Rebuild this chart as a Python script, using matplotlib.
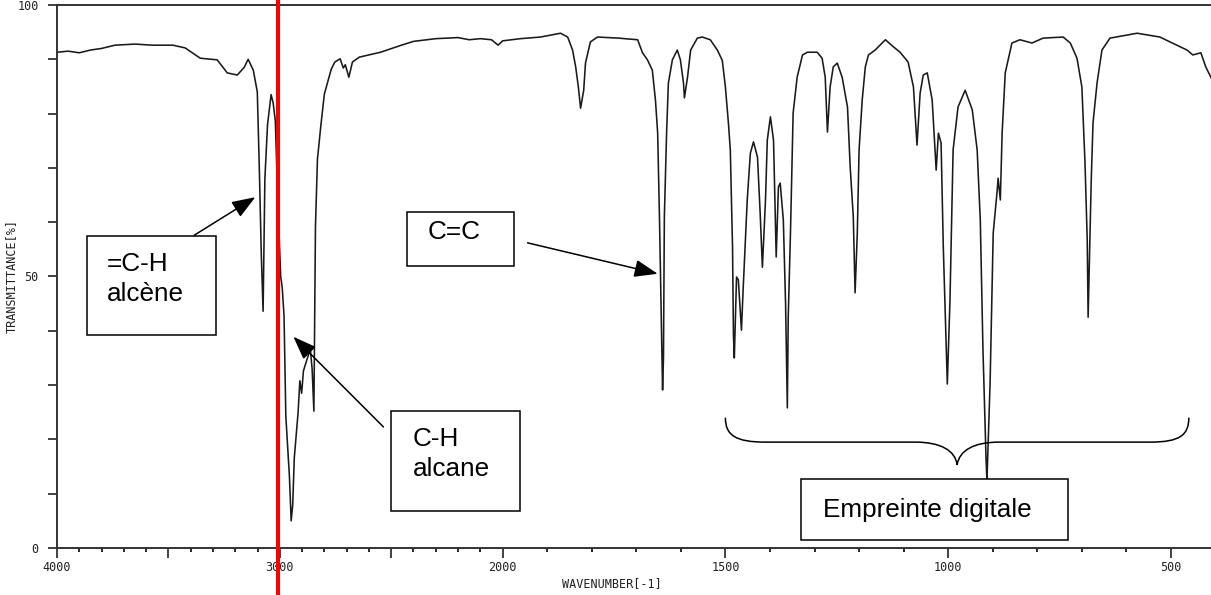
import numpy as np
import matplotlib
matplotlib.use("Agg")
import matplotlib.pyplot as plt
from matplotlib.patches import Rectangle, PathPatch
from matplotlib.path import Path
from matplotlib.ticker import FixedLocator, FuncFormatter
from matplotlib.transforms import blended_transform_factory

# IR spectrum, wavenumber (cm-1) vs transmittance (%)
wavenumber = [4000, 3950, 3900, 3850, 3800, 3740, 3650, 3570, 3480, 3425, 3357, 3281, 3236, 3191,
              3160, 3142, 3119, 3101, 3092, 3083, 3075, 3067, 3055, 3039, 3030, 3020, 3010, 2996,
              2989, 2981, 2973, 2957, 2949, 2942, 2935, 2918, 2910, 2902, 2894, 2879, 2863, 2855,
              2847, 2840, 2831, 2816, 2800, 2769, 2753, 2729, 2715, 2706, 2690, 2674, 2643, 2548,
              2454, 2400, 2300, 2200, 2150, 2100, 2050, 2020, 2000, 1960, 1915, 1870, 1854, 1843,
              1836, 1830, 1825, 1818, 1814, 1803, 1787, 1740, 1697, 1686, 1675, 1664, 1657, 1652,
              1648, 1643, 1641, 1639, 1637, 1632, 1628, 1619, 1608, 1601, 1594, 1592, 1585, 1578,
              1563, 1552, 1534, 1518, 1507, 1500, 1493, 1489, 1484, 1482, 1480, 1475, 1471, 1464,
              1460, 1451, 1444, 1437, 1428, 1422, 1417, 1410, 1406, 1399, 1392, 1386, 1381, 1377,
              1370, 1365, 1361, 1359, 1354, 1348, 1339, 1327, 1316, 1294, 1283, 1276, 1271, 1265,
              1258, 1249, 1238, 1226, 1220, 1213, 1209, 1204, 1200, 1193, 1186, 1179, 1164, 1141,
              1123, 1108, 1090, 1078, 1070, 1063, 1056, 1047, 1036, 1027, 1022, 1016, 1011, 1002,
              996, 989, 978, 962, 946, 935, 928, 922, 915, 913, 906, 899, 890, 888, 883, 879, 872,
              857, 839, 812, 787, 742, 726, 711, 700, 693, 688, 686, 679, 675, 666, 655, 637, 576,
              525, 464, 451, 433, 422, 410, 400]
transmittance = [91.3, 91.5, 91.2, 91.7, 92.0, 92.6, 92.8, 92.6, 92.6, 92.1, 90.2, 89.9, 87.5, 87.1,
                 88.5, 90.0, 88.0, 84.0, 70.0, 54.0, 43.6, 68.0, 78.0, 83.5, 82.0, 78.6, 65.0, 50.0,
                 47.9, 42.7, 24.3, 13.3, 5.0, 8.0, 16.6, 24.9, 30.8, 28.5, 32.6, 34.6, 36.6, 33.0,
                 25.2, 59.1, 71.6, 77.7, 83.6, 88.2, 89.5, 90.1, 88.4, 89.0, 86.7, 89.5, 90.4, 91.3,
                 92.6, 93.3, 93.8, 94.0, 93.6, 93.8, 93.6, 92.6, 93.4, 93.8, 94.1, 94.8, 94.1, 91.7,
                 88.6, 84.9, 81.0, 84.3, 89.3, 93.2, 94.1, 93.9, 93.6, 91.2, 89.9, 88.0, 82.5, 76.4,
                 61.0, 38.3, 29.1, 35.0, 61.0, 76.4, 85.6, 89.9, 91.7, 89.9, 85.6, 82.9, 86.7, 91.7,
                 93.9, 94.1, 93.6, 91.7, 89.8, 84.9, 78.0, 73.3, 55.4, 39.3, 35.0, 49.9, 49.4, 40.1,
                 48.0, 64.1, 72.7, 74.8, 72.0, 61.7, 51.7, 64.1, 75.1, 79.4, 75.1, 53.6, 66.5, 67.2,
                 60.4, 45.1, 25.8, 42.5, 58.0, 80.1, 86.7, 90.8, 91.3, 91.3, 90.2, 86.7, 76.6, 84.9,
                 88.6, 89.3, 86.7, 81.2, 70.2, 61.0, 47.0, 58.0, 73.3, 82.5, 88.6, 90.8, 91.7, 93.6,
                 92.3, 91.3, 89.5, 84.9, 74.2, 83.8, 87.1, 87.5, 82.5, 69.6, 76.4, 74.6, 55.4, 30.2,
                 45.7, 73.3, 81.2, 84.3, 80.7, 73.3, 60.4, 36.5, 16.2, 12.5, 30.4, 58.0, 65.9, 68.1,
                 64.1, 76.4, 87.5, 93.0, 93.6, 93.0, 93.9, 94.1, 93.0, 90.2, 84.9, 70.9, 56.7, 42.5,
                 67.8, 78.3, 85.6, 91.7, 93.9, 94.8, 94.1, 91.7, 90.8, 91.2, 88.6, 86.6, 85.0]

tick_labels = {4000: "4000", 3000: "3000", 2000: "2000", 1500: "1500", 1000: "1000", 500: "500"}
ytick_labels = {0: "0", 50: "50", 100: "100"}
marker_line = 3010  # red reference line

mono = "DejaVu Sans Mono"
sans = "Liberation Sans"


# spectrometer chart: scale is doubled below 2000 cm-1
def forward(w):
    w = np.asarray(w, dtype=float)
    return np.where(w > 2000, 2000 + (w - 2000) / 2.0, w)


def inverse(p):
    p = np.asarray(p, dtype=float)
    return np.where(p > 2000, 2000 + (p - 2000) * 2.0, p)


fig = plt.figure(figsize=(12.11, 5.95), dpi=100)
ax = fig.add_axes([0.04707, 0.07899, 0.9567, 0.91261])
ax.set_xscale("function", functions=(forward, inverse))
ax.set_xlim(4000, 400)
ax.set_ylim(0, 100)

ax.plot(wavenumber, transmittance, color="#1a1a1a", lw=1.15, zorder=2)

# axes styling
for side in ["left", "bottom", "top"]:
    ax.spines[side].set_linewidth(1.4)
    ax.spines[side].set_color("#333333")
ax.spines["right"].set_visible(False)

ax.xaxis.set_major_locator(FixedLocator([4000, 3500, 3000, 2500, 2000, 1500, 1000, 500]))
ax.xaxis.set_minor_locator(FixedLocator(np.arange(400, 4001, 100)))
ax.xaxis.set_major_formatter(FuncFormatter(lambda v, pos: tick_labels.get(int(round(v)), "")))
ax.yaxis.set_major_locator(FixedLocator([0, 50, 100]))
ax.yaxis.set_minor_locator(FixedLocator(np.arange(0, 101, 10)))
ax.yaxis.set_major_formatter(FuncFormatter(lambda v, pos: ytick_labels.get(int(round(v)), "")))

ax.tick_params(axis="x", which="major", direction="out", length=7.2, width=1.2, pad=2.5,
               labelsize=8.5, colors="#222222")
ax.tick_params(axis="x", which="minor", direction="out", length=3.2, width=1.2)
ax.tick_params(axis="y", which="both", direction="out", length=6.2, width=1.2, pad=7,
               labelsize=8.5, colors="#222222")
for lab in ax.get_xticklabels() + ax.get_yticklabels():
    lab.set_family(mono)

ax.set_xlabel("WAVENUMBER[-1]", family=mono, fontsize=8.5, color="#222222")
ax.xaxis.set_label_coords(0.479, -0.053)
ax.set_ylabel("TRANSMITTANCE[%]", family=mono, fontsize=8.5, color="#222222")
ax.yaxis.set_label_coords(-0.034, 0.5)

# red marker across the whole figure height
trans = blended_transform_factory(ax.transData, fig.transFigure)
ax.plot([marker_line, marker_line], [0, 1], transform=trans, color="#ff0000", lw=2.9,
        clip_on=False, zorder=5)

# labelled boxes (wavenumber left, wavenumber right, T bottom, T top)
boxes = [
    ((3865, 3285, 39.2, 57.5), (3775, 49.5), "=C-H\nalcène"),
    ((2431, 1975, 52.0, 61.8), (2337, 58.2), "C=C"),
    ((2503, 1960, 6.8, 25.2), (2404, 17.3), "C-H\nalcane"),
    ((1330, 731, 1.5, 12.7), (1280, 7.0), "Empreinte digitale"),
]
for (w0, w1, t0, t1), (tx, ty), label in boxes:
    ax.add_patch(Rectangle((w0, t0), w1 - w0, t1 - t0, facecolor="white", edgecolor="black",
                           lw=1.1, zorder=4))
    ax.text(tx, ty, label, ha="left", va="center", family=sans, fontsize=18.8,
            linespacing=1.3, zorder=6)

# arrows from the boxes to the bands
arrows = [
    ((3384, 57.6), (3110, 64.6)),
    ((1944, 56.2), (1652, 50.5)),
    ((2535, 22.3), (2939, 38.9)),
]
for tail, tip in arrows:
    ax.annotate("", xy=tip, xytext=tail,
                arrowprops=dict(arrowstyle="-|>,head_length=0.72,head_width=0.27",
                                mutation_scale=20, color="black", lw=1.1,
                                shrinkA=0, shrinkB=0),
                zorder=6)

# curly brace over the fingerprint region
brace_pts = [
    (1500, 24.0),
    (1500, 20.8), (1478, 19.5), (1410, 19.5),
    (1074, 19.5),
    (1018, 19.5), (984, 18.0), (980, 15.3),
    (975, 18.0), (942, 19.5), (886, 19.5),
    (547, 19.5),
    (480, 19.5), (460, 20.8), (460, 24.0),
]
brace_codes = [Path.MOVETO, Path.CURVE4, Path.CURVE4, Path.CURVE4, Path.LINETO,
               Path.CURVE4, Path.CURVE4, Path.CURVE4, Path.CURVE4, Path.CURVE4, Path.CURVE4,
               Path.LINETO, Path.CURVE4, Path.CURVE4, Path.CURVE4]
ax.add_patch(PathPatch(Path(brace_pts, brace_codes), facecolor="none", edgecolor="black",
                       lw=1.1, zorder=3))

fig.savefig("out.png", dpi=100)
